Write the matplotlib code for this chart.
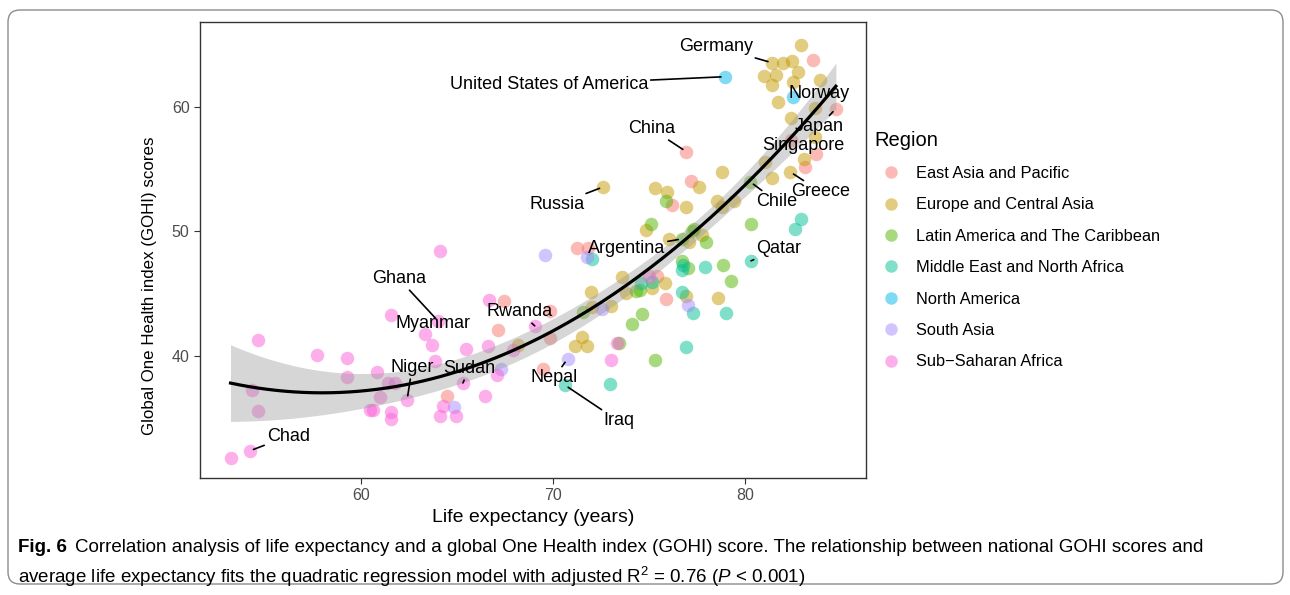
import matplotlib
matplotlib.use('Agg')
import matplotlib.pyplot as plt
from matplotlib.lines import Line2D
from matplotlib.patches import FancyBboxPatch
from matplotlib.transforms import IdentityTransform
import numpy as np

plt.rcParams['font.family'] = ['Liberation Sans', 'DejaVu Sans']

# life expectancy (years) and GOHI score per country, grouped by region
# (labelled countries come first in each region)
eap_le = [76.94, 84.73, 82.39, 67.12, 67.43, 64.47, 69.82, 69.82, 69.45, 71.22,
          71.79, 77.19, 76.21, 75.90, 75.43, 83.53, 83.69, 83.12]
eap_gohi = [56.39, 59.84, 57.35, 42.09, 44.42, 36.79, 43.61, 41.45, 38.96, 48.67,
            48.67, 54.06, 52.13, 44.58, 46.43, 63.78, 56.22, 55.18]

eca_le = [81.40, 72.62, 82.34, 83.64, 82.91, 81.97, 82.44, 80.99, 81.61, 82.75,
          81.40, 82.49, 83.90, 81.71, 82.39, 83.64, 83.06, 81.04, 81.40, 78.81,
          77.61, 75.95, 75.32, 76.94, 78.55, 79.43, 78.81, 74.86, 76.05, 77.77,
          77.09, 73.61, 75.84, 75.17, 71.95, 73.82, 76.94, 78.60, 72.05, 73.04,
          71.48, 71.12, 71.74, 68.16]
eca_gohi = [63.53, 53.57, 54.78, 59.92, 64.98, 63.53, 63.69, 62.49, 62.57, 62.81,
            61.77, 62.01, 62.17, 60.40, 59.12, 57.59, 55.82, 55.58, 54.30, 54.78,
            53.57, 53.17, 53.49, 51.97, 52.45, 52.45, 51.97, 50.12, 49.40, 49.72,
            49.16, 46.35, 45.86, 45.46, 45.14, 45.06, 44.82, 44.66, 43.94, 44.02,
            41.53, 40.80, 40.80, 40.88]

lac_le = [80.26, 76.73, 80.31, 77.35, 77.97, 78.86, 79.27, 77.04, 76.73, 74.65,
          74.13, 73.45, 75.32, 71.53, 74.34, 75.90, 75.12, 77.25, 74.55]
lac_gohi = [53.98, 49.40, 50.60, 50.20, 49.16, 47.31, 46.02, 47.07, 47.63, 43.37,
            42.57, 41.04, 39.68, 43.53, 45.22, 52.45, 50.60, 50.04, 45.30]

mena_le = [80.31, 70.60, 77.92, 76.73, 76.73, 77.30, 79.01, 76.94, 72.94, 72.00,
           74.60, 75.17, 82.91, 82.60, 76.78]
mena_gohi = [47.63, 37.67, 47.15, 46.91, 45.14, 43.45, 43.45, 40.72, 37.75, 47.79,
             45.86, 45.94, 51.00, 50.20, 47.31]

na_le = [78.96, 82.49]
na_gohi = [62.41, 60.80]

sa_le = [70.75, 69.56, 67.27, 64.83, 71.74, 77.04, 72.57]
sa_gohi = [39.76, 48.11, 38.96, 35.90, 47.95, 44.10, 43.78]

ssa_le = [54.18, 62.39, 65.30, 69.04, 64.00, 53.19, 54.60, 54.29, 54.60, 57.71,
          59.27, 59.27, 60.47, 64.10, 61.56, 60.83, 61.40, 61.77, 60.99, 60.62,
          61.56, 61.56, 63.32, 63.69, 63.84, 64.26, 64.10, 64.94, 65.45, 66.60,
          66.65, 66.44, 67.07, 67.90, 73.04, 73.35, 75.01]
ssa_gohi = [32.37, 36.47, 37.83, 42.41, 42.81, 31.81, 41.29, 37.27, 35.58, 40.08,
            39.84, 38.31, 35.66, 48.43, 43.29, 38.71, 37.83, 37.83, 36.71, 35.66,
            35.50, 34.94, 41.77, 40.88, 39.60, 35.98, 35.18, 35.18, 40.56, 40.80,
            44.50, 36.79, 38.47, 40.48, 39.68, 41.04, 46.43]

regions = ['East Asia and Pacific', 'Europe and Central Asia',
           'Latin America and The Caribbean', 'Middle East and North Africa',
           'North America', 'South Asia', 'Sub\u2212Saharan Africa']
region_le = [eap_le, eca_le, lac_le, mena_le, na_le, sa_le, ssa_le]
region_gohi = [eap_gohi, eca_gohi, lac_gohi, mena_gohi, na_gohi, sa_gohi, ssa_gohi]
colors = ['#F8766D', '#C49A00', '#53B400', '#00C094', '#00B6EB', '#A58AFF', '#FB61D7']

# labelled countries: (name, region index, index in that region, draw segment)
labels = [
    ('Germany', 1, 0, True), ('United States of America', 4, 0, True),
    ('China', 0, 0, True), ('Russia', 1, 1, True), ('Norway', 1, 3, False),
    ('Japan', 0, 1, True), ('Singapore', 0, 2, False), ('Greece', 1, 2, True),
    ('Chile', 2, 0, True), ('Qatar', 3, 0, True), ('Argentina', 2, 1, True),
    ('Ghana', 6, 4, True), ('Myanmar', 0, 3, False), ('Rwanda', 6, 3, True),
    ('Niger', 6, 1, True), ('Sudan', 6, 2, True), ('Chad', 6, 0, True),
    ('Nepal', 5, 0, True), ('Iraq', 3, 1, True),
]
# where the label text sits (data coords)
label_pos = {
    'Germany': (78.49, 64.82), 'United States of America': (69.77, 61.77),
    'China': (75.12, 58.23), 'Russia': (70.18, 52.13), 'Norway': (83.84, 61.04),
    'Japan': (83.84, 58.39), 'Singapore': (83.01, 56.87), 'Greece': (83.95, 53.17),
    'Chile': (81.66, 52.37), 'Qatar': (81.77, 48.59), 'Argentina': (73.82, 48.59),
    'Ghana': (61.97, 46.18), 'Myanmar': (63.74, 42.57), 'Rwanda': (68.26, 43.53),
    'Niger': (62.65, 39.04), 'Sudan': (65.61, 38.96), 'Chad': (56.21, 33.57),
    'Nepal': (70.03, 38.23), 'Iraq': (73.40, 34.78),
}

W, H = 1290, 595
fig = plt.figure(figsize=(W / 100, H / 100), dpi=100)
ax = fig.add_axes([200 / W, 1 - 478 / H, 666 / W, 456 / H])

for le, gohi, c in zip(region_le, region_gohi, colors):
    ax.scatter(le, gohi, s=95, color=c, alpha=0.5, linewidths=0, zorder=2)

# quadratic fit with 95% confidence band
x_all = np.concatenate([np.asarray(v) for v in region_le])
y_all = np.concatenate([np.asarray(v) for v in region_gohi])
xc = x_all.mean()
X = np.column_stack([np.ones_like(x_all), x_all - xc, (x_all - xc) ** 2])
beta, *_ = np.linalg.lstsq(X, y_all, rcond=None)
resid = y_all - X @ beta
s2 = resid @ resid / (len(y_all) - 3)
cov = s2 * np.linalg.inv(X.T @ X)
xg = np.linspace(x_all.min(), x_all.max(), 200)
Xg = np.column_stack([np.ones_like(xg), xg - xc, (xg - xc) ** 2])
yg = Xg @ beta
se = np.sqrt(np.einsum('ij,jk,ik->i', Xg, cov, Xg))
ax.fill_between(xg, yg - 1.98 * se, yg + 1.98 * se, color='#999999', alpha=0.4,
                linewidth=0, zorder=3)
ax.plot(xg, yg, color='black', lw=2.3, zorder=4)

for name, r, i, seg in labels:
    px, py = region_le[r][i], region_gohi[r][i]
    tx, ty = label_pos[name]
    if seg:
        ax.annotate(name, xy=(px, py), xytext=(tx, ty), ha='center', va='center',
                    fontsize=13, zorder=5,
                    arrowprops=dict(arrowstyle='-', color='black', lw=1.2,
                                    shrinkA=0, shrinkB=3))
    else:
        ax.text(tx, ty, name, ha='center', va='center', fontsize=13, zorder=5)

ax.set_xlim(51.6, 86.3)
ax.set_ylim(30.2, 66.8)
ax.set_xticks([60, 70, 80])
ax.set_yticks([40, 50, 60])
ax.tick_params(colors='#333333', labelcolor='#4d4d4d', labelsize=11.5, length=4)
for sp in ax.spines.values():
    sp.set_color('#333333')
    sp.set_linewidth(1)
ax.set_xlabel('Life expectancy (years)', fontsize=14, labelpad=4)
ax.set_ylabel('Global One Health index (GOHI) scores', fontsize=12.2)
ax.yaxis.set_label_coords(-0.065, 0.421)

handles = [Line2D([], [], marker='o', ls='', color=c, alpha=0.5, markersize=9,
                  markeredgewidth=0) for c in colors]
leg = fig.legend(handles, regions, loc='upper left', bbox_to_anchor=(868 / W, 1 - 124 / H),
                 frameon=False, title='Region', fontsize=11.8, title_fontsize=14.5,
                 labelspacing=1.0, handletextpad=0.55, borderaxespad=0)
leg._legend_box.align = 'left'

# caption
fig.patches.append(FancyBboxPatch((8, 11), 1275, 574, boxstyle='round,pad=0,rounding_size=12',
                                  transform=IdentityTransform(), facecolor='none',
                                  edgecolor='#8c8c8c', lw=1))
cap_font = ['Liberation Sans Narrow', 'Liberation Sans', 'DejaVu Sans']
t = fig.text(18 / W, 1 - 548 / H, 'Fig. 6', fontsize=13.5, fontweight='bold',
             family=cap_font, va='center')
fig.canvas.draw()
bb = t.get_window_extent(fig.canvas.get_renderer())
fig.text(bb.x1 / W + 8 / W, 1 - 548 / H,
         'Correlation analysis of life expectancy and a global One Health index (GOHI) score. '
         'The relationship between national GOHI scores and',
         fontsize=13.5, family=cap_font, va='center')
plt.rcParams['mathtext.fontset'] = 'custom'
plt.rcParams['mathtext.rm'] = 'Liberation Sans'
plt.rcParams['mathtext.it'] = 'Liberation Sans:italic'
fig.text(18 / W, 1 - 577 / H,
         r'average life expectancy fits the quadratic regression model with adjusted '
         r'R$^2$ = 0.76 ($\mathit{P}$ < 0.001)',
         fontsize=13.5, family=cap_font, va='center')

fig.savefig('out.png', dpi=100)
